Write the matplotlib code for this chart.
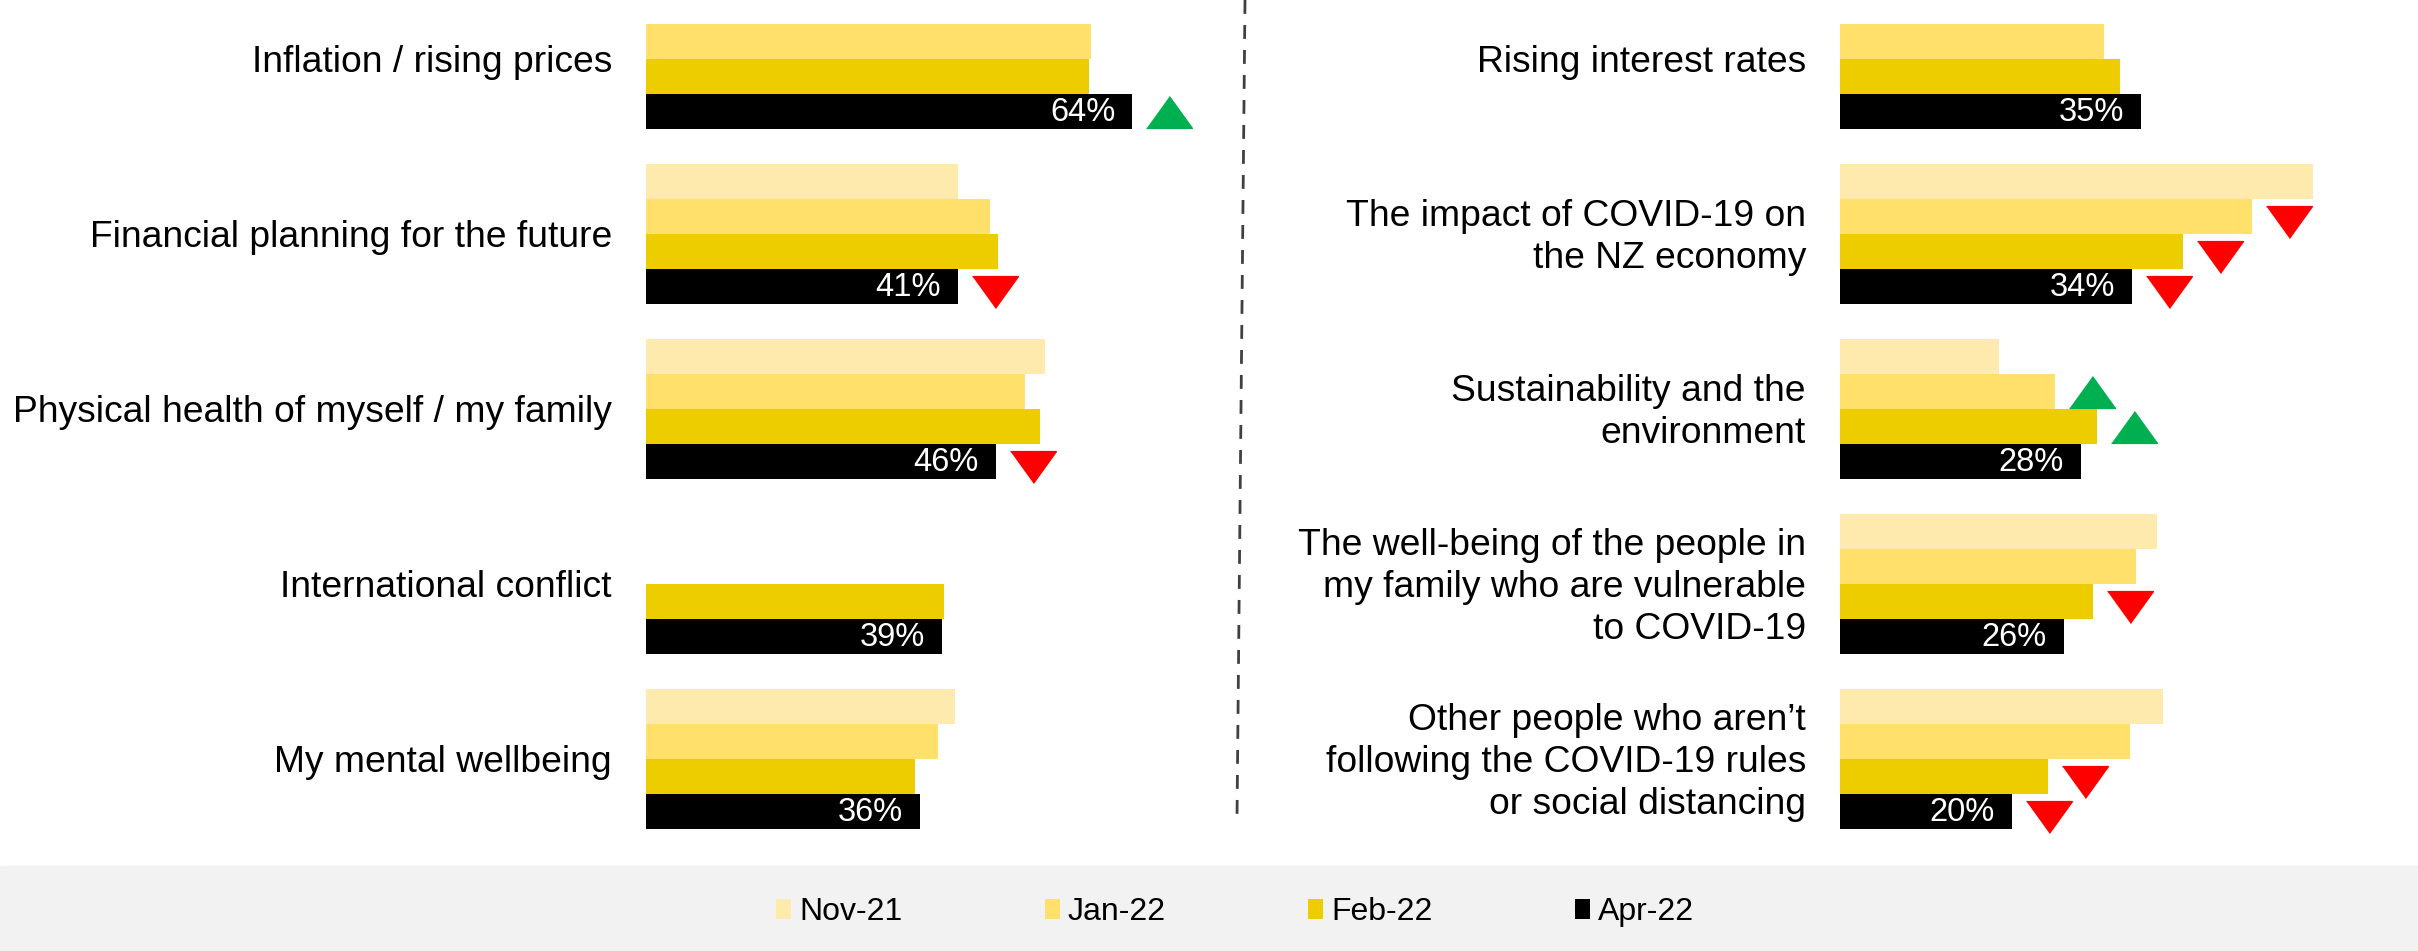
import numpy as np
import matplotlib
matplotlib.use("Agg")
import matplotlib.pyplot as plt
from matplotlib.patches import Patch
from matplotlib.lines import Line2D
from matplotlib.transforms import ScaledTranslation

plt.rcParams['font.family'] = ['Liberation Sans', 'DejaVu Sans']

waves = ['Nov-21', 'Jan-22', 'Feb-22', 'Apr-22']
colors = ['#FFEAAE', '#FFE06B', '#EDCD00', '#000000']

# left panel (None = not asked in that wave)
left_cats = ['Inflation / rising prices',
             'Financial planning for the future',
             'Physical health of myself / my family',
             'International conflict',
             'My mental wellbeing']
left_nov = [None, 41.0, 52.5, None, 40.7]
left_jan = [58.6, 45.2, 49.9, None, 38.4]
left_feb = [58.3, 46.3, 51.8, 39.2, 35.4]
left_apr = [64, 41, 46, 39, 36]

# right panel
right_cats = ['Rising interest rates',
              'The impact of COVID-19 on\nthe NZ economy',
              'Sustainability and the\nenvironment',
              'The well-being of the people in\nmy family who are vulnerable\nto COVID-19',
              'Other people who aren\u2019t\nfollowing the COVID-19 rules\nor social distancing']
right_nov = [None, 55.0, 18.5, 36.9, 37.6]
right_jan = [30.7, 47.9, 25.0, 34.4, 33.7]
right_feb = [32.5, 39.9, 29.9, 29.4, 24.2]
right_apr = [35, 34, 28, 26, 20]

# significant changes: (category index, wave index, 'up'/'down')
left_trends = [(0, 3, 'up'), (1, 3, 'down'), (2, 3, 'down')]
right_trends = [(1, 1, 'down'), (1, 2, 'down'), (1, 3, 'down'),
                (2, 1, 'up'), (2, 2, 'up'),
                (3, 2, 'down'),
                (4, 2, 'down'), (4, 3, 'down')]

W, H = 2418, 951
fig = plt.figure(figsize=(W / 100, H / 100), dpi=100)

# grey legend band
fig.patches.append(plt.Rectangle((0, 0), 1, 85 / H, transform=fig.transFigure,
                                 color='#F2F2F2', zorder=0))

up_tri = [(-0.72, -0.5), (0.72, -0.5), (0, 0.5)]
down_tri = [(-0.72, 0.5), (0.72, 0.5), (0, -0.5)]


def panel(left_px, xmax, px_per_pct, cats, series, trends):
    width_px = xmax * px_per_pct
    ax = fig.add_axes([left_px / W, 1 - 866 / H, width_px / W, 866 / H])
    ax.set_xlim(0, xmax)
    ax.set_ylim((866 - 6.5) / 35, -6.5 / 35)
    ax.axis('off')

    for s, vals in enumerate(series):
        for g, v in enumerate(vals):
            if v is None:
                continue
            ax.barh(5 * g + s, v, height=1.0, color=colors[s], linewidth=0)

    for g, v in enumerate(series[3]):
        ax.annotate(f'{v:.0f}%', (v, 5 * g + 3), xytext=(-12.2, -0.5),
                    textcoords='offset points', ha='right', va='center',
                    color='white', fontsize=23.5)

    for g, cat in enumerate(cats):
        ax.annotate(cat, (0, 5 * g + 1.5), xytext=(-24.5, -2.5),
                    textcoords='offset points', ha='right', va='center',
                    fontsize=26.8, linespacing=1.27)

    for g, s, d in trends:
        v = series[s][g]
        dy = 0 if d == 'up' else -0.05
        tr = ax.transData + ScaledTranslation(0.37, dy, fig.dpi_scale_trans)
        ax.plot([v], [5 * g + s], transform=tr, linestyle='none',
                marker=up_tri if d == 'up' else down_tri, markersize=33,
                color='#00B050' if d == 'up' else '#FF0000', clip_on=False)
    return ax


panel(646, 70, 7.6, left_cats, [left_nov, left_jan, left_feb, left_apr], left_trends)
panel(1840, 65, 8.6, right_cats, [right_nov, right_jan, right_feb, right_apr], right_trends)

# dashed divider
fig.lines.append(Line2D([1245 / W, 1237 / W], [1, 1 - 818 / H], transform=fig.transFigure,
                        color='#404040', linewidth=2, dashes=(5, 4)))

handles = [Patch(facecolor=c, edgecolor='none') for c in colors]
fig.legend(handles, waves, loc='center', bbox_to_anchor=(1235 / W, 1 - 912 / H),
           ncol=4, frameon=False, fontsize=23, handlelength=0.47, handleheight=0.6,
           handletextpad=0.25, columnspacing=4.45)

fig.savefig('out.png', dpi=100)
